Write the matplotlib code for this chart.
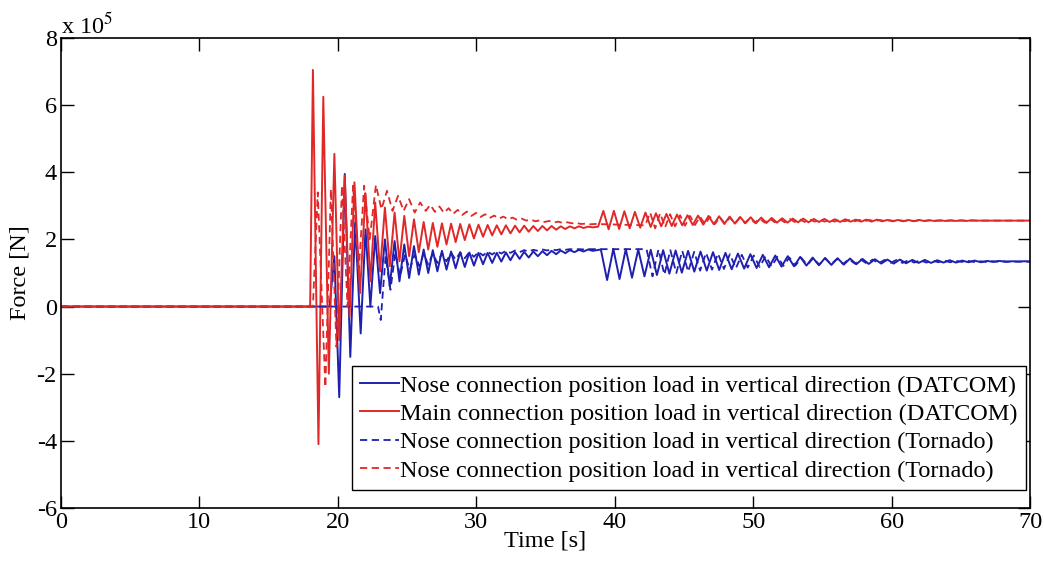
import numpy as np
import matplotlib
matplotlib.use("Agg")
import matplotlib.pyplot as plt

plt.rcParams['font.family'] = ['Liberation Serif', 'DejaVu Serif']
plt.rcParams['mathtext.fontset'] = 'stix'
plt.rcParams['axes.unicode_minus'] = False

# force values in units of 1e5 N (extrema of the oscillations)

# --- Main connection, DATCOM (red solid)
red_solid_t = [0.0, 18.0, 18.2, 18.6, 18.95, 19.35, 19.75, 20.1, 20.5, 20.85, 21.2, 21.6,
               22.0, 22.35, 22.7, 23.05, 23.4, 23.75, 24.1, 24.45, 24.8, 25.15, 25.5, 25.85]
red_solid_v = [0.0, 0.0, 7.05, -4.1, 6.25, -2.0, 4.55, -1.0, 3.9, -0.3, 3.7, 0.4,
               3.37, 0.75, 3.1, 1.05, 2.95, 1.2, 2.8, 1.35, 2.7, 1.5, 2.6, 1.62]
red_solid_mid = [2.52, 1.70, 2.49, 1.78, 2.48, 1.85, 2.47, 1.92, 2.46, 1.98, 2.45, 2.03,
                 2.44, 2.08, 2.43, 2.12, 2.42, 2.15, 2.42, 2.18, 2.41, 2.21, 2.41, 2.23,
                 2.40, 2.25, 2.40, 2.27, 2.40, 2.29, 2.39, 2.31, 2.39, 2.33, 2.39, 2.34,
                 2.38, 2.36]
red_solid_tail = [2.38, 2.85, 2.30, 2.85, 2.31, 2.84, 2.33, 2.82, 2.35, 2.80, 2.37, 2.78,
                  2.39, 2.76, 2.40, 2.74, 2.42, 2.72, 2.43, 2.71, 2.44, 2.70, 2.45, 2.69,
                  2.46, 2.68, 2.47, 2.67, 2.48, 2.66, 2.48, 2.65, 2.49, 2.64, 2.50, 2.63,
                  2.50, 2.62, 2.51, 2.62, 2.51, 2.61, 2.52, 2.61, 2.52, 2.60, 2.52, 2.60,
                  2.53, 2.59, 2.53, 2.59, 2.53, 2.59, 2.54, 2.58, 2.54, 2.58, 2.54, 2.58,
                  2.54, 2.58, 2.55, 2.57, 2.55, 2.57, 2.55, 2.57, 2.55, 2.57, 2.55, 2.57,
                  2.56, 2.56, 2.56, 2.56, 2.56, 2.56, 2.56, 2.56]
red_solid_end = 2.56

# --- Nose connection, DATCOM (blue solid)
blue_solid_t = [0.0, 19.4, 19.75, 20.1, 20.5, 20.9, 21.25, 21.65, 22.0, 22.35, 22.7, 23.05,
                23.4, 23.75, 24.1, 24.45, 24.8, 25.15, 25.5, 25.85]
blue_solid_v = [0.0, 0.0, 1.5, -2.7, 3.95, -1.5, 2.5, -0.8, 2.3, 0.0, 2.1, 0.4,
                2.0, 0.6, 1.95, 0.75, 1.85, 0.85, 1.8, 0.95]
blue_solid_mid = [1.70, 1.00, 1.68, 1.05, 1.66, 1.10, 1.64, 1.14, 1.62, 1.18, 1.61, 1.22,
                  1.60, 1.26, 1.60, 1.30, 1.60, 1.34, 1.61, 1.38, 1.62, 1.42, 1.63, 1.46,
                  1.64, 1.50, 1.65, 1.53, 1.66, 1.56, 1.67, 1.59, 1.68, 1.62, 1.69, 1.64,
                  1.70, 1.66]
blue_solid_tail = [1.70, 0.79, 1.72, 0.82, 1.71, 0.86, 1.70, 0.90, 1.69, 0.94, 1.68, 0.98,
                   1.67, 1.01, 1.66, 1.04, 1.64, 1.07, 1.62, 1.09, 1.60, 1.11, 1.58, 1.13,
                   1.56, 1.15, 1.54, 1.17, 1.52, 1.19, 1.50, 1.20, 1.48, 1.22, 1.46, 1.23,
                   1.45, 1.24, 1.44, 1.25, 1.43, 1.26, 1.42, 1.27, 1.41, 1.28, 1.40, 1.28,
                   1.40, 1.29, 1.39, 1.30, 1.39, 1.30, 1.38, 1.31, 1.38, 1.31, 1.37, 1.32,
                   1.37, 1.32, 1.36, 1.33, 1.36, 1.33, 1.35, 1.34, 1.35, 1.34]
blue_solid_end = 1.34

# --- Nose connection, Tornado (blue dashed)
blue_dash_t = [0.0, 22.9, 23.1, 23.45, 23.8, 24.15, 24.5, 24.85, 25.2, 25.55, 25.9]
blue_dash_v = [0.0, 0.0, -0.4, 1.5, 0.5, 1.6, 0.9, 1.55, 1.1, 1.55, 1.2]
blue_dash_mid = [1.58, 1.25, 1.58, 1.30, 1.59, 1.35, 1.60, 1.40, 1.61, 1.44, 1.62, 1.48,
                 1.63, 1.52, 1.64, 1.55, 1.65, 1.58, 1.66, 1.60, 1.67, 1.62, 1.68, 1.64,
                 1.69, 1.66, 1.70, 1.67, 1.70, 1.68, 1.71, 1.69, 1.71, 1.70, 1.71, 1.70,
                 1.71, 1.71]
blue_dash_tail = [1.71, 0.90, 1.70, 0.95, 1.68, 1.00, 1.66, 1.04, 1.63, 1.07, 1.60, 1.10,
                  1.58, 1.12, 1.56, 1.14, 1.54, 1.16, 1.52, 1.18, 1.50, 1.20, 1.48, 1.21,
                  1.46, 1.22, 1.45, 1.24, 1.44, 1.25, 1.43, 1.26, 1.42, 1.27, 1.41, 1.28,
                  1.40, 1.28, 1.40, 1.29, 1.39, 1.30, 1.39, 1.30, 1.38, 1.31, 1.38, 1.31,
                  1.37, 1.32, 1.37, 1.32, 1.36, 1.33, 1.36, 1.33, 1.35, 1.33, 1.35, 1.34,
                  1.35, 1.34, 1.34, 1.34]
blue_dash_end = 1.34

# --- Main connection, Tornado (red dashed)
red_dash_t = [0.0, 18.2, 18.55, 19.1, 19.5, 19.9, 20.3, 20.7, 21.1, 21.5, 21.9, 22.3,
              22.75, 23.15, 23.55, 23.95, 24.35, 24.75, 25.15, 25.55, 25.95]
red_dash_v = [0.0, 0.0, 3.4, -2.4, 3.5, -1.2, 3.6, 0.0, 3.6, 1.0, 3.6, 2.0,
              3.62, 2.9, 3.45, 2.85, 3.3, 2.85, 3.2, 2.8, 3.1]
red_dash_mid = [2.85, 3.03, 2.82, 2.98, 2.79, 2.93, 2.76, 2.88, 2.73, 2.83, 2.70, 2.79,
                2.67, 2.75, 2.64, 2.71, 2.62, 2.68, 2.60, 2.65, 2.58, 2.62, 2.56, 2.59,
                2.54, 2.57, 2.52, 2.55, 2.50, 2.53, 2.49, 2.51, 2.48, 2.49, 2.46, 2.47,
                2.45, 2.46]
red_dash_tail = [2.42, 2.80, 2.33, 2.78, 2.36, 2.75, 2.39, 2.72, 2.41, 2.70, 2.43, 2.68,
                 2.45, 2.67, 2.46, 2.66, 2.47, 2.65, 2.48, 2.64, 2.49, 2.63, 2.50, 2.62,
                 2.50, 2.62, 2.51, 2.61, 2.51, 2.61, 2.52, 2.60, 2.52, 2.60, 2.53, 2.59,
                 2.53, 2.59, 2.53, 2.59, 2.54, 2.58, 2.54, 2.58, 2.54, 2.58, 2.54, 2.58,
                 2.55, 2.57, 2.55, 2.57, 2.55, 2.57, 2.55, 2.57, 2.55, 2.57, 2.56, 2.56,
                 2.56, 2.56, 2.56, 2.56, 2.56, 2.56, 2.56, 2.56]
red_dash_end = 2.56

labels = ["Nose connection position load in vertical direction (DATCOM)",
          "Main connection position load in vertical direction (DATCOM)",
          "Nose connection position load in vertical direction (Tornado)",
          "Nose connection position load in vertical direction (Tornado)"]


def series(t_head, v_head, mid, mid_t0, mid_dt, tail, tail_t0, tail_dt, end):
    # head keypoints, two evenly sampled stretches of extrema, last sample at 70 s
    t = list(t_head) + list(mid_t0 + mid_dt * np.arange(len(mid))) \
        + list(tail_t0 + tail_dt * np.arange(len(tail)))
    v = list(v_head) + list(mid) + list(tail)
    t = np.array(t)
    v = np.array(v)
    keep = t < 70
    return np.append(t[keep], 70.0), np.append(v[keep], end)


rs = series(red_solid_t, red_solid_v, red_solid_mid, 26.2, 0.33,
            red_solid_tail, 38.8, 0.38, red_solid_end)
bs = series(blue_solid_t, blue_solid_v, blue_solid_mid, 26.2, 0.33,
            blue_solid_tail, 39.0, 0.45, blue_solid_end)
bd = series(blue_dash_t, blue_dash_v, blue_dash_mid, 26.2, 0.33,
            blue_dash_tail, 42.3, 0.43, blue_dash_end)
rd = series(red_dash_t, red_dash_v, red_dash_mid, 26.35, 0.33,
            red_dash_tail, 42.2, 0.36, red_dash_end)

blue = '#1f1fb0'
red = '#e02828'
fs = 17.5

fig = plt.figure(figsize=(10.44, 5.62), dpi=100)
ax = fig.add_axes([0.0584, 0.0961, 0.9282, 0.8363])

ax.plot(bs[0], bs[1], color=blue, lw=1.4, label=labels[0], solid_joinstyle='round')
ax.plot(rs[0], rs[1], color=red, lw=1.4, label=labels[1], solid_joinstyle='round')
ax.plot(bd[0], bd[1], color=blue, lw=1.3, ls=(0, (4, 2.5)), label=labels[2])
ax.plot(rd[0], rd[1], color=red, lw=1.3, ls=(0, (4, 2.5)), label=labels[3])

ax.set_xlim(0, 70)
ax.set_ylim(-6, 8)
ax.set_xticks(np.arange(0, 71, 10))
ax.set_yticks(np.arange(-6, 9, 2))
ax.tick_params(direction='in', length=9, width=1, top=True, right=True,
               labelsize=fs, pad=3)
for s in ax.spines.values():
    s.set_linewidth(1.2)

ax.set_xlabel("Time [s]", fontsize=fs, labelpad=-2)
ax.set_ylabel("Force [N]", fontsize=fs, labelpad=4)
ax.text(0.0, 1.0, r"x 10$^5$", transform=ax.transAxes, fontsize=fs,
        ha='left', va='bottom')

leg = ax.legend(loc='lower right', bbox_to_anchor=(0.996, 0.038), fontsize=fs,
                frameon=True, fancybox=False, edgecolor='black', framealpha=1,
                handlelength=1.6, handletextpad=0.05, labelspacing=0.26,
                borderpad=0.35, borderaxespad=0.0)
leg.get_frame().set_linewidth(1.0)

fig.savefig("out.png", dpi=100)
